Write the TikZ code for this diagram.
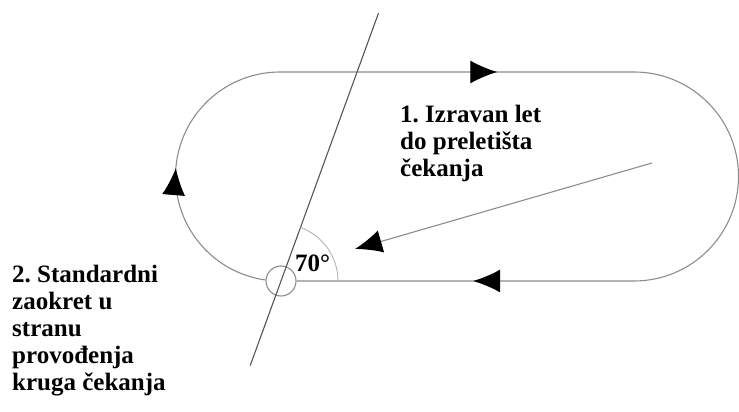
\documentclass[tikz,border=0pt]{standalone}
\usepackage{fontspec}
\setmainfont{Liberation Serif}
\usetikzlibrary{arrows.meta,positioning,calc,decorations.markings}
\definecolor{trackgray}{HTML}{8C8C8C}
\definecolor{axisgray}{HTML}{555555}
\definecolor{anglegray}{HTML}{B4B4B4}
\frenchspacing

\begin{document}
\begin{tikzpicture}[x=1pt, y=1pt, font=\fontsize{25}{27}\selectfont\bfseries, >={Latex[length=27pt,width=23pt,black]}]
  \tikzstyle{track}=[draw=trackgray, line width=1.1pt]
  \tikzstyle{label}=[align=left, inner sep=0pt, anchor=north west]
  \useasboundingbox (0,0) rectangle (739,412);

  \node[circle, track, minimum size=30pt, inner sep=0pt] (fix) at (281,131) {};

  % racetrack, flown clockwise
  \draw[track, postaction={decorate}, decoration={markings,
      mark=at position 158pt with {\arrow{>}},
      mark=at position 531pt with {\arrow{>}},
      mark=at position 1157pt with {\arrow{>}}}]
    ($(280,235.5)+(262:104.5)$) arc[start angle=262, end angle=90, radius=104.5]
    -- (634,340) arc[start angle=90, end angle=-90, radius=104.5] -- (fix.east);

  % inbound line and angle
  \coordinate (ltop) at ($(fix.center)+(70:285)$);
  \coordinate (lbot) at ($(fix.center)+(250:90)$);
  \draw[draw=axisgray, line width=1.1pt] (lbot) -- (ltop);
  \draw[draw=anglegray, line width=0.9pt] ($(fix.center)+(0:57)$) arc[start angle=0, end angle=70, radius=57];
  \node[inner sep=0pt, anchor=base west] (ang) at (295,140) {70°};

  % direct entry
  \coordinate (entry) at (652,249);
  \coordinate (entrytip) at (355,163);
  \draw[->, draw=trackgray, line width=1.1pt] (entry) -- (entrytip);

  \node[label] (direct) at (400,307) {1. Izravan let\\do preletišta\\čekanja};
  \node[label] (turn) at (12,147) {2. Standardni\\zaokret u\\stranu\\provođenja\\kruga čekanja};
\end{tikzpicture}
\end{document}
